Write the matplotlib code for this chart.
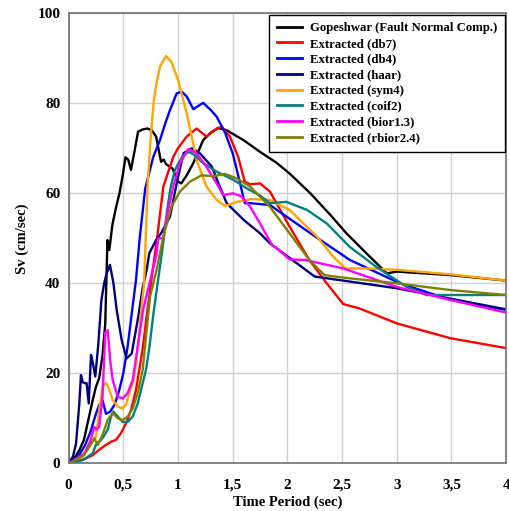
import matplotlib
matplotlib.use("Agg")
import matplotlib.pyplot as plt
from matplotlib.ticker import FuncFormatter

plt.rcParams['font.family'] = ['Liberation Serif', 'DejaVu Serif']
plt.rcParams['font.weight'] = 'bold'

# Gopeshwar (Fault Normal Comp.)
t_gop = [0, 0.05, 0.1, 0.14, 0.18, 0.22, 0.25, 0.28, 0.31, 0.335, 0.355, 0.372, 0.4, 0.435, 0.465,
         0.495, 0.52, 0.545, 0.57, 0.6, 0.635, 0.68, 0.72, 0.76, 0.8, 0.845, 0.87, 0.89, 0.95, 1.0,
         1.03, 1.08, 1.14, 1.23, 1.3, 1.37, 1.445, 1.6, 1.75, 1.9, 2.02, 2.21, 2.4, 2.54, 2.75,
         2.91, 3.0, 3.5, 4.0]
sv_gop = [0, 1, 3, 5.2, 9.6, 14, 17, 19, 24, 31, 49.6, 47.4, 53, 57, 60,
          64, 68, 67.5, 65.2, 69, 73.7, 74.2, 74.4, 74, 72.6, 67, 67.5, 66.5, 65.5, 62.6,
          62.2, 64, 66.7, 71.8, 73.5, 74.5, 74, 71.8, 69.2, 66.8, 64.4, 60, 55, 51.1, 46,
          42.2, 42.6, 41.8, 40.6]

# db7
t_db7 = [0, 0.068, 0.16, 0.22, 0.28, 0.342, 0.388, 0.433, 0.479, 0.525, 0.57, 0.616, 0.646, 0.68,
         0.71, 0.753, 0.814, 0.866, 0.927, 0.957, 1.0, 1.08, 1.17, 1.26, 1.354, 1.40, 1.475, 1.55,
         1.61, 1.66, 1.75, 1.84, 2.02, 2.2, 2.36, 2.51, 2.66, 3.0, 3.49, 4.0]
sv_db7 = [0, 0.4, 1.1, 1.8, 3, 4.1, 4.8, 5.2, 6.7, 8.9, 11.8, 16.3, 20.7, 26,
          32, 40, 51, 61.5, 65.9, 68.1, 70, 72.6, 74.4, 72.6, 74.4, 74.8, 72.6, 68.1,
          62.6, 62, 62.2, 60.4, 52.6, 45.2, 40, 35.4, 34.4, 31.1, 27.8, 25.6]

# db4
t_db4 = [0, 0.05, 0.1, 0.15, 0.2, 0.25, 0.28, 0.31, 0.342, 0.38, 0.42, 0.46, 0.5, 0.54, 0.586,
         0.616, 0.65, 0.7, 0.774, 0.835, 0.89, 0.927, 0.988, 1.034, 1.08, 1.14, 1.23, 1.3, 1.354,
         1.43, 1.5, 1.56, 1.61, 1.66, 1.84, 2.2, 2.57, 3.03, 3.49, 4.0]
sv_db4 = [0, 0.7, 2, 4, 7, 11, 13, 14, 11, 11.5, 13, 16, 20, 26, 35,
          40.7, 50, 61, 68.1, 71.8, 76, 78.5, 82.2, 82.6, 81.5, 78.7, 80.1, 78.5, 77,
          73.5, 68.9, 63, 57.8, 57.8, 57.4, 51.3, 45.2, 40, 36.3, 34.1]

# haar
t_haar = [0, 0.04, 0.068, 0.098, 0.113, 0.13, 0.15, 0.165, 0.184, 0.205, 0.22, 0.244, 0.27, 0.30,
          0.325, 0.348, 0.378, 0.41, 0.44, 0.485, 0.53, 0.577, 0.637, 0.677, 0.714, 0.738, 0.8,
          0.845, 0.927, 0.988, 1.05, 1.125, 1.2, 1.31, 1.37, 1.445, 1.6, 1.75, 1.84, 2.25, 3.0, 4.0]
sv_haar = [0, 1.5, 4.4, 13.3, 19.6, 18, 17.8, 17.8, 13.3, 24.1, 22.5, 19.3, 26, 36.3,
           40, 42.2, 44.1, 40, 34, 27.4, 23.3, 24.4, 32.6, 39, 43, 46.7, 49.6,
           51.1, 54.8, 62.2, 68.9, 70, 68.9, 65.9, 62.2, 57.8, 54.1, 51.1, 48.9, 41.5, 38.9, 34.2]

# sym4
t_sym4 = [0, 0.037, 0.13, 0.19, 0.25, 0.28, 0.31, 0.342, 0.37, 0.405, 0.449, 0.49, 0.525, 0.555,
          0.59, 0.616, 0.632, 0.645, 0.668, 0.69, 0.723, 0.753, 0.78, 0.8, 0.835, 0.89, 0.94, 1.0,
          1.08, 1.17, 1.26, 1.354, 1.43, 1.54, 1.67, 1.84, 2.02, 2.27, 2.42, 2.53, 2.72, 3.0, 3.49, 4.0]
sv_sym4 = [0, 0.4, 1.5, 3.7, 5.9, 11.8, 17, 17.9, 16.5, 14, 12.6, 12.2, 13, 15.6,
           18, 22, 26, 29, 35, 40, 62.2, 73.3, 80.7, 84, 88.1, 90.5, 89.2, 85.2,
           77.8, 67.4, 61.5, 58.5, 57.2, 58.1, 58.7, 58.5, 56.3, 50.4, 45.9, 43.3, 43.3, 43, 42, 40.6]

# coif2
t_coif2 = [0, 0.03, 0.13, 0.22, 0.25, 0.28, 0.31, 0.357, 0.388, 0.41, 0.449, 0.494, 0.54, 0.586,
           0.632, 0.677, 0.707, 0.74, 0.774, 0.814, 0.86, 0.9, 0.93, 0.97, 1.0, 1.05, 1.1, 1.15,
           1.23, 1.354, 1.505, 1.63, 1.75, 1.84, 1.99, 2.18, 2.36, 2.57, 2.81, 3.09, 3.27, 4.0]
sv_coif2 = [0, 0.1, 0.7, 2.2, 4.1, 4.8, 5.6, 7.4, 10.4, 11.5, 10.4, 9.2, 9.2, 10.4,
            13.3, 17.8, 20.7, 26, 33, 40, 48, 56, 61, 65, 66.5, 68.5, 69.2, 68.5,
            66.7, 64.8, 63, 61.1, 59.5, 57.8, 58.1, 56.3, 53.3, 48.1, 43.7, 39.2, 37.4, 37.4]

# bior1.3
t_bior = [0, 0.052, 0.144, 0.2, 0.235, 0.255, 0.28, 0.31, 0.335, 0.357, 0.38, 0.403, 0.449, 0.494,
          0.54, 0.586, 0.632, 0.68, 0.74, 0.8, 0.82, 0.866, 0.897, 0.957, 1.018, 1.094, 1.17,
          1.26, 1.354, 1.414, 1.505, 1.58, 1.66, 1.75, 1.86, 1.917, 2.02, 2.16, 2.51, 3.0, 3.49, 4.0]
sv_bior = [0, 0.7, 2.2, 5, 8.1, 7.5, 8.1, 14.8, 29, 29.6, 23, 18.5, 14.8, 14.4,
           15.6, 18.5, 25.9, 34, 40, 46, 50, 50, 54.8, 61.5, 66.7, 69.8, 68.9,
           65.9, 62.2, 59.6, 60, 59.3, 57, 53.3, 48.5, 47.5, 45.3, 45.2, 43.3, 39.2, 36.3, 33.5]

# rbior2.4
t_rbior = [0, 0.04, 0.144, 0.205, 0.235, 0.266, 0.31, 0.357, 0.403, 0.449, 0.494, 0.54, 0.586,
           0.632, 0.677, 0.744, 0.805, 0.866, 0.94, 1.018, 1.11, 1.216, 1.32, 1.43, 1.537, 1.66,
           1.84, 2.02, 2.2, 2.34, 2.57, 3.0, 3.49, 4.0]
sv_rbior = [0, 0.4, 1.9, 4.4, 5.6, 4.1, 6.3, 9.6, 11.2, 10, 9.6, 10.4, 12.2,
            15.6, 20.7, 37, 43, 50.4, 57, 60.4, 62.6, 64, 63.8, 64.3, 63.3, 61.5,
            57, 51.1, 45.2, 41.8, 41.1, 40, 38.5, 37.4]

series = [
    (t_gop, sv_gop, "Gopeshwar (Fault Normal Comp.)", "#000000"),
    (t_db7, sv_db7, "Extracted (db7)", "#ff0000"),
    (t_db4, sv_db4, "Extracted (db4)", "#0000ff"),
    (t_haar, sv_haar, "Extracted (haar)", "#000080"),
    (t_sym4, sv_sym4, "Extracted (sym4)", "#ffa500"),
    (t_coif2, sv_coif2, "Extracted (coif2)", "#008080"),
    (t_bior, sv_bior, "Extracted (bior1.3)", "#ff00ff"),
    (t_rbior, sv_rbior, "Extracted (rbior2.4)", "#808000"),
]

x_ticks = [0, 0.5, 1, 1.5, 2, 2.5, 3, 3.5, 4]
y_ticks = [0, 20, 40, 60, 80, 100]

fig = plt.figure(figsize=(5.1, 5.11), dpi=100)
ax = fig.add_axes([0.1345, 0.0933, 0.858, 0.8807])

for t, sv, lab, col in series:
    ax.plot(t, sv, color=col, lw=1.7, label=lab, solid_joinstyle='round')

ax.set_xlim(0, 4)
ax.set_ylim(0, 100)
ax.set_xticks(x_ticks)
ax.set_yticks(y_ticks)
ax.xaxis.set_major_formatter(FuncFormatter(lambda v, p: ("%g" % v).replace(".", ",")))
ax.grid(True, color="#d0d0d0", lw=1.0)
ax.set_axisbelow(True)
ax.tick_params(length=0, labelsize=11)
ax.tick_params(axis='x', pad=11)
ax.tick_params(axis='y', pad=6)
for lbl in ax.get_xticklabels() + ax.get_yticklabels():
    lbl.set_fontweight('bold')
for s in ax.spines.values():
    s.set_color("#707070")
    s.set_linewidth(1.2)

ax.set_xlabel("Time Period (sec)", fontsize=10.5, fontweight='bold', labelpad=3)
ax.set_ylabel("Sv (cm/sec)", fontsize=10.5, fontweight='bold', labelpad=6)

leg = ax.legend(loc="upper right", fontsize=9.2, frameon=True, fancybox=False,
                edgecolor="black", framealpha=1, borderpad=0.6, labelspacing=0.29,
                handlelength=2.0, handletextpad=0.6, borderaxespad=0.1)
leg.get_frame().set_linewidth(1.0)
for txt in leg.get_texts():
    txt.set_fontweight('bold')
for line in leg.get_lines():
    line.set_linewidth(2.0)

fig.savefig("out.png", dpi=100)
